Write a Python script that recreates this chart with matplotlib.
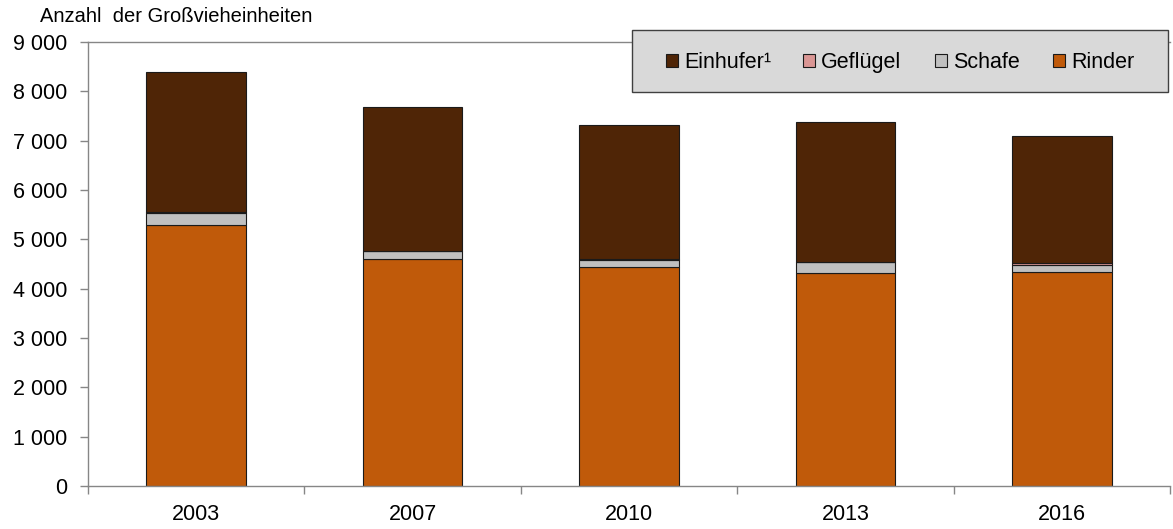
import matplotlib
matplotlib.use("Agg")
import matplotlib.pyplot as plt
from matplotlib.ticker import FuncFormatter, FixedLocator
from matplotlib.patches import Rectangle
import numpy as np

plt.rcParams['font.family'] = ['Liberation Sans', 'DejaVu Sans']

years = ["2003", "2007", "2010", "2013", "2016"]
rinder = [5290, 4600, 4440, 4320, 4340]
schafe = [250, 160, 140, 220, 140]
gefluegel = [15, 10, 30, 10, 40]
einhufer = [2835, 2910, 2710, 2830, 2580]

series = [
    ("Rinder", rinder, "#C05A0A"),
    ("Schafe", schafe, "#C0C0C0"),
    ("Geflügel", gefluegel, "#DA9694"),
    ("Einhufer¹", einhufer, "#4F2506"),
]

W, H = 1173, 529
fig = plt.figure(figsize=(W / 100, H / 100), dpi=100)
ax = fig.add_axes([88 / W, 1 - 486 / H, (1170 - 88) / W, (486 - 42) / H])

x = np.arange(len(years))
bottom = np.zeros(len(years))
handles = {}
for name, vals, col in series:
    b = ax.bar(x, vals, width=0.46, bottom=bottom, color=col,
               edgecolor="#1a1a1a", linewidth=0.8, label=name)
    handles[name] = b
    bottom += np.array(vals)

ax.set_xlim(-0.5, len(years) - 0.5)
ax.set_ylim(0, 9000)
ax.set_yticks(np.arange(0, 9001, 1000))
ax.yaxis.set_major_formatter(FuncFormatter(lambda v, p: f"{int(v):,}".replace(",", " ")))
ax.set_xticks(x)
ax.set_xticklabels(years)
ax.xaxis.set_minor_locator(FixedLocator(np.arange(-0.5, len(years), 1.0)))
ax.tick_params(axis='x', which='major', length=0, labelsize=15.5, pad=13)
ax.tick_params(axis='x', which='minor', length=6, color="#868686", width=1)
ax.tick_params(axis='y', length=5.8, color="#868686", width=1, labelsize=15.5, pad=9)

ax.spines["right"].set_visible(False)
for s in ["top", "left", "bottom"]:
    ax.spines[s].set_color("#868686")
    ax.spines[s].set_linewidth(1)

fig.text(40 / W, 1 - 17 / H, "Anzahl  der Großvieheinheiten", fontsize=14.5,
         ha="left", va="center")

# legend box
fig.patches.append(Rectangle((632 / W, 1 - 92 / H), 536 / W, 62 / H,
                             transform=fig.transFigure, facecolor="#D9D9D9",
                             edgecolor="#404040", linewidth=1, zorder=5))

order = ["Einhufer¹", "Geflügel", "Schafe", "Rinder"]
leg_x = [666, 803, 935, 1053]
for name, lx in zip(order, leg_x):
    leg = fig.legend([handles[name]], [name], loc="upper left",
                     bbox_to_anchor=(lx / W, 1 - 52 / H),
                     fontsize=15.5, frameon=False,
                     handlelength=0.58, handleheight=0.58, handletextpad=0.25,
                     borderpad=0, borderaxespad=0)
    leg.set_zorder(6)

fig.savefig("out.png", dpi=100)
